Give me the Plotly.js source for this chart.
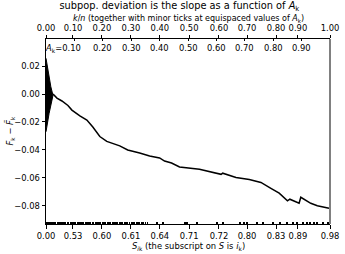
<!DOCTYPE html>
<html>
<head>
<meta charset="utf-8">
<script src="https://cdn.plot.ly/plotly-3.0.1.min.js"></script>
<style>html,body{margin:0;padding:0;background:#fff;}#chart{width:345px;height:254px;}</style>
</head>
<body>
<div id="chart"></div>
<script>
// Main curve (x in axis fraction, y = F_k - F~_k)
const curveX = [0.0246, 0.0386, 0.0561, 0.0772, 0.0912, 0.1193, 0.1439, 0.1649, 0.1895, 0.2140, 0.2596, 0.2877, 0.3298, 0.3649, 0.4000, 0.4175, 0.4421, 0.4702, 0.5404, 0.5754, 0.6165, 0.6221, 0.6691, 0.7158, 0.7568, 0.7919, 0.8211, 0.8502, 0.8586, 0.8912, 0.8972, 0.9323, 0.9554, 0.9965];
const curveY = [0.0000, -0.0029, -0.0050, -0.0082, -0.0115, -0.0157, -0.0186, -0.0236, -0.0304, -0.0339, -0.0371, -0.0400, -0.0421, -0.0443, -0.0457, -0.0479, -0.0493, -0.0521, -0.0538, -0.0557, -0.0574, -0.0566, -0.0596, -0.0611, -0.0632, -0.0674, -0.0709, -0.0764, -0.0752, -0.0781, -0.0738, -0.0781, -0.0798, -0.0816];
// Dense oscillating start, drawn as its envelope
const startX = [0, 0.008, 0.017, 0.0246, 0.011, 0];
const startY = [0.0255, 0.0148, 0.0052, -0.0010, -0.0138, -0.0270];
// Top axis: k/n tick positions and labels
const kTickPos = [0, 0.095, 0.197, 0.299, 0.401, 0.504, 0.609, 0.708, 0.810, 0.887, 1.0];
const kTickText = ["0.00", "0.10", "0.20", "0.30", "0.40", "0.50", "0.60", "0.70", "0.80", "0.90", "1.00"];
// Minor ticks at equispaced A_k
const akPos = [0.1, 0.2, 0.3, 0.4, 0.5, 0.6, 0.7, 0.8, 0.9];
const akText = ["0.10", "0.20", "0.30", "0.40", "0.50", "0.60", "0.70", "0.80", "0.90"];
// Bottom axis: S_{i_k} labels
const sTickText = ["0.00", "0.53", "0.60", "0.61", "0.64", "0.71", "0.72", "0.80", "0.83", "0.89", "0.98"];
// Rug of S values along the bottom
const rugPos = [0.000, 0.005, 0.011, 0.017, 0.022, 0.028, 0.034, 0.040, 0.046, 0.051, 0.057, 0.063, 0.069, 0.075, 0.080, 0.086, 0.092, 0.098, 0.104, 0.110, 0.116, 0.121, 0.127, 0.133, 0.139, 0.145, 0.151, 0.157, 0.163, 0.168, 0.174, 0.180, 0.186, 0.192, 0.198, 0.204, 0.210, 0.216, 0.222, 0.228, 0.234, 0.240, 0.246, 0.252, 0.258, 0.264, 0.270, 0.276, 0.282, 0.288, 0.294, 0.300, 0.306, 0.312, 0.318, 0.324, 0.330, 0.336, 0.342, 0.350, 0.358, 0.391, 0.412, 0.489, 0.496, 0.532, 0.602, 0.623, 0.683, 0.697, 0.708, 0.743, 0.764, 0.799, 0.824, 0.849, 0.870, 0.884, 0.905, 0.919, 0.930, 0.944, 0.954, 0.975, 0.993];
// Y ticks
const yTickVals = [0.02, 0.00, -0.02, -0.04, -0.06, -0.08];
const yTickText = ["0.02", "0.00", "\u22120.02", "\u22120.04", "\u22120.06", "\u22120.08"];

const FONT = "DejaVu Sans";
const FS = 8.4;
const traces = [
  {x: startX, y: startY, type: 'scatter', mode: 'lines', fill: 'toself', fillcolor: 'black',
   line: {color: 'black', width: 1}, hoverinfo: 'skip', showlegend: false},
  {x: curveX, y: curveY, type: 'scatter', mode: 'lines', line: {color: 'black', width: 1.5}, showlegend: false},
  {x: [0, 1], y: [null, null], xaxis: 'x2', yaxis: 'y', type: 'scatter', mode: 'lines', showlegend: false}
];

const annotations = akPos.map((p, i) => ({
  x: p, y: 1, xref: 'x', yref: 'paper', yanchor: 'top', yshift: -2,
  text: i === 0 ? '<i>A</i><sub>k</sub>=' + akText[i] : akText[i],
  xanchor: i === 0 ? 'right' : 'center', xshift: i === 0 ? 9 : 0,
  showarrow: false, font: {family: FONT, size: FS, color: 'black'}
}));
annotations.push({
  x: 0.5, y: 1, xref: 'paper', yref: 'paper', yanchor: 'middle', yshift: 20.5,
  text: '<i>k</i>/<i>n</i> (together with minor ticks at equispaced values of <i>A</i><sub>k</sub>)',
  showarrow: false, font: {family: FONT, size: 8, color: 'black'}
});
annotations.push({
  x: 0.5, y: 0, xref: 'paper', yref: 'paper', yanchor: 'middle', yshift: -22,
  text: '<i>S</i><sub><i>i</i>k</sub> (the subscript on <i>S</i> is <i>i</i><sub>k</sub>)',
  showarrow: false, font: {family: FONT, size: FS, color: 'black'}
});
annotations.push({
  x: 0, y: 0.5, xref: 'paper', yref: 'paper', xanchor: 'center', xshift: -36, textangle: -90,
  text: '<i>F</i><sub>k</sub> \u2212 <i>F\u0303</i><sub>k</sub>',
  showarrow: false, font: {family: FONT, size: FS, color: 'black'}
});

const layout = {
  width: 345, height: 254,
  margin: {l: 46, r: 15, t: 39, b: 30, pad: 0},
  paper_bgcolor: 'white', plot_bgcolor: 'white',
  font: {family: FONT, size: FS, color: 'black'},
  showlegend: false,
  title: {text: 'subpop. deviation is the slope as a function of <i>A</i><sub>k</sub>',
          x: 0.52, xanchor: 'center', y: 0.979, yanchor: 'middle', yref: 'container',
          font: {family: FONT, size: 9.8, color: 'black'}},
  xaxis: {range: [0, 1], showgrid: false, zeroline: false, showline: true, linecolor: 'black', linewidth: 1,
          tickmode: 'array', tickvals: kTickPos, ticktext: sTickText, ticks: 'outside', ticklen: 3.5,
          tickcolor: 'black', tickwidth: 1, tickfont: {family: FONT, size: FS},
          minor: {tickmode: 'array', tickvals: rugPos, ticks: 'inside', ticklen: 2, tickwidth: 1.4, tickcolor: 'black', showgrid: false}},
  xaxis2: {range: [0, 1], overlaying: 'x', side: 'top', anchor: 'y', showgrid: false, zeroline: false,
           showline: true, linecolor: 'black', linewidth: 1,
           tickmode: 'array', tickvals: kTickPos, ticktext: kTickText, ticks: 'outside', ticklen: 3.5,
           tickcolor: 'black', tickwidth: 1, tickfont: {family: FONT, size: FS},
           minor: {tickmode: 'array', tickvals: akPos, ticks: 'inside', ticklen: 2, tickwidth: 1, tickcolor: 'black', showgrid: false}},
  yaxis: {range: [-0.0929, 0.0393], showgrid: false, zeroline: false, showline: true, linecolor: 'black', linewidth: 1,
          tickmode: 'array', tickvals: yTickVals, ticktext: yTickText, ticks: 'outside', ticklen: 3.5,
          tickcolor: 'black', tickwidth: 1, tickfont: {family: FONT, size: FS}},
  shapes: [{type: 'line', xref: 'paper', yref: 'paper', x0: 1, x1: 1, y0: 0, y1: 1, line: {color: '#808080', width: 2}}],
  annotations: annotations
};
Plotly.newPlot('chart', traces, layout, {staticPlot: true, displayModeBar: false});
</script>
</body>
</html>
